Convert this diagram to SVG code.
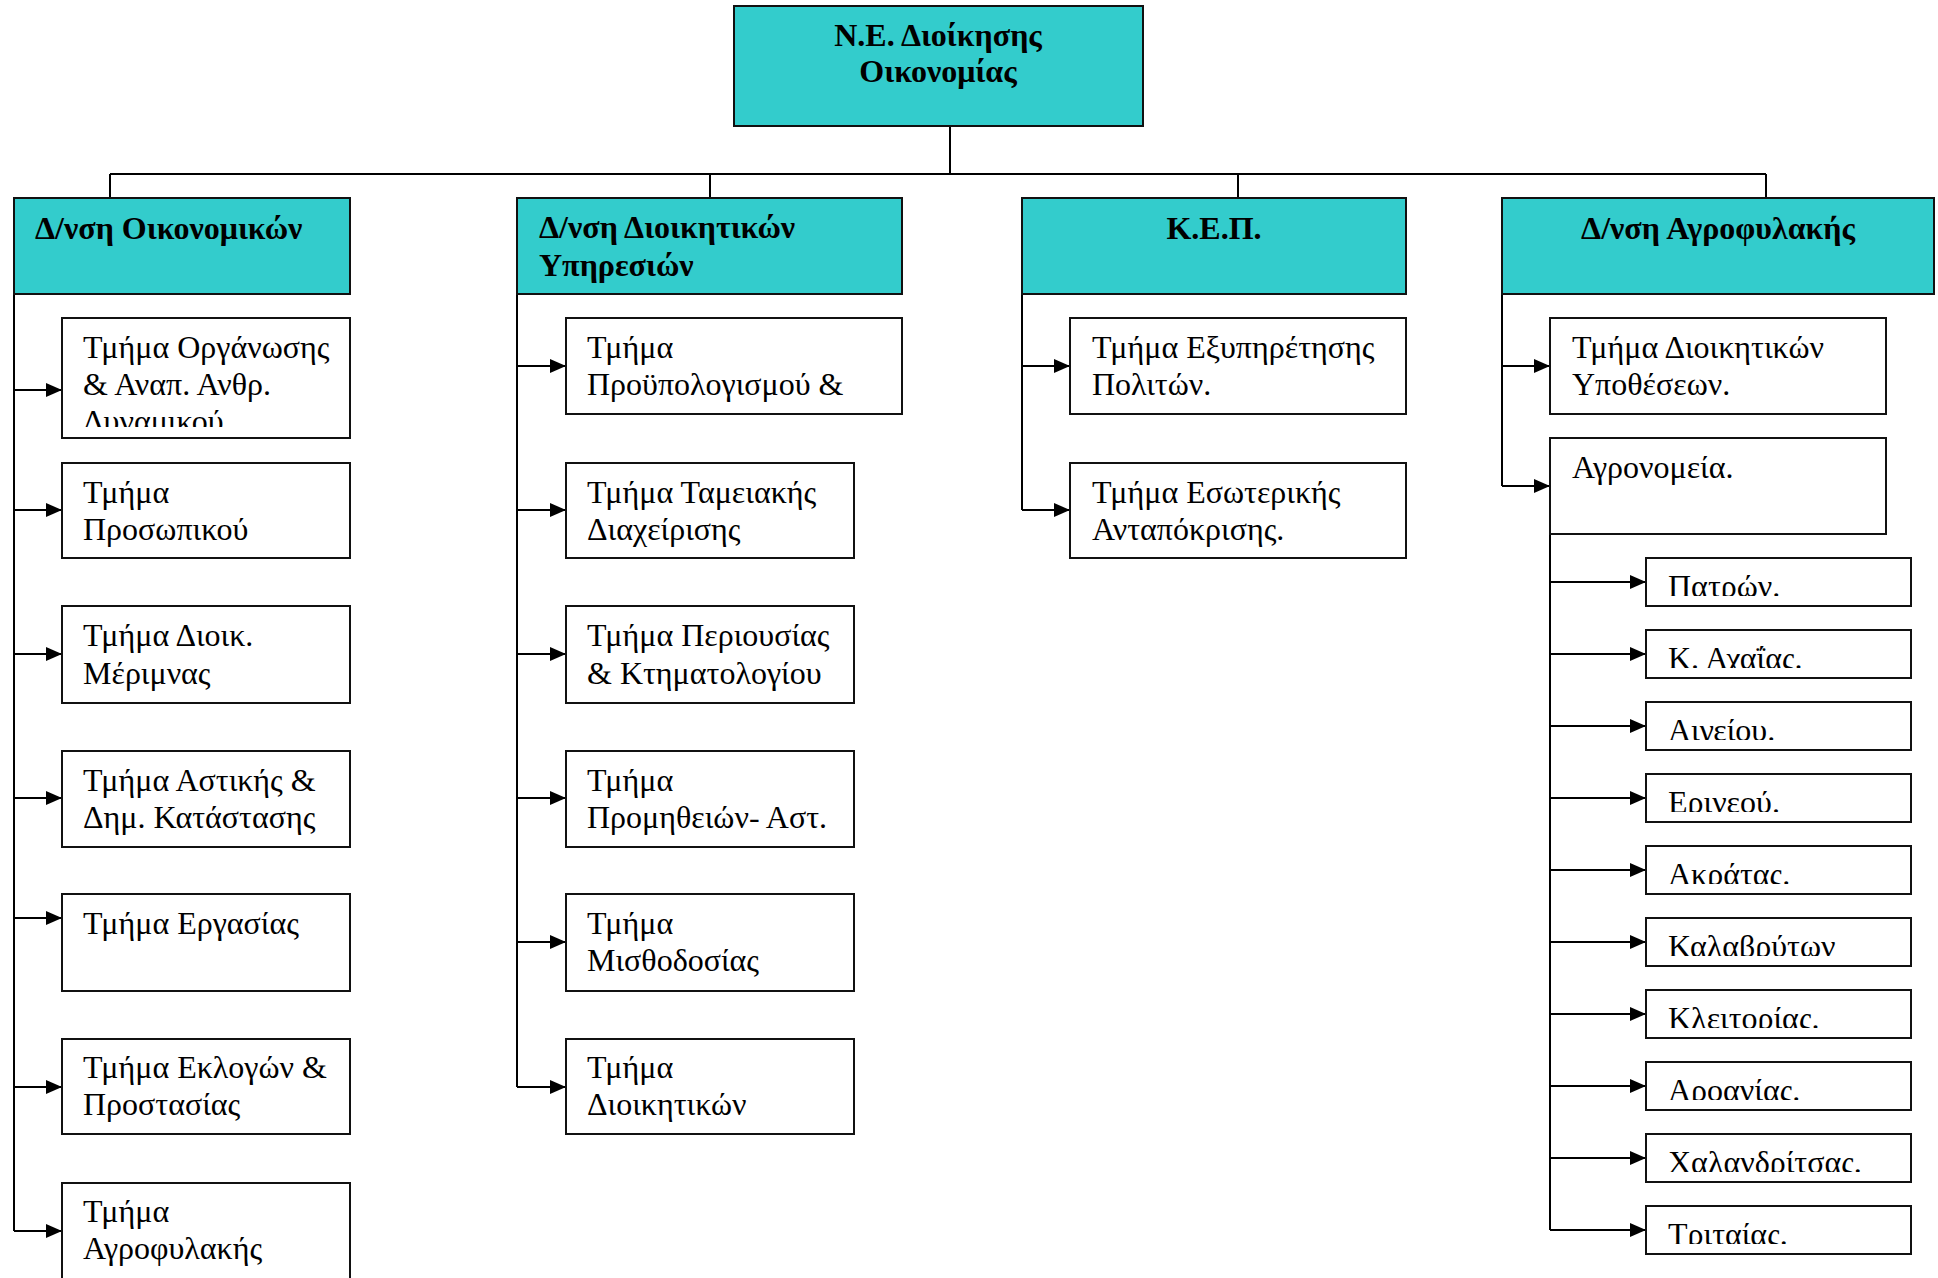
<svg xmlns="http://www.w3.org/2000/svg" width="1938" height="1278" viewBox="0 0 1938 1278">
  <style>
    .head { fill: #33CCCC; stroke: #111; stroke-width: 2; }
    .box { fill: #fff; stroke: #111; stroke-width: 2; }
    .t { font-family: "Liberation Serif", "Times New Roman", serif; font-size: 32px; fill: #000; }
    .tb { font-family: "Liberation Serif", "Times New Roman", serif; font-size: 32px; font-weight: bold; fill: #000; }
    .mid { text-anchor: middle; }
    .conn line, .conn polyline { stroke: #000; stroke-width: 2; fill: none; }
    .arr { marker-end: url(#tip); }
  </style>
  <defs>
    <marker id="tip" markerUnits="userSpaceOnUse" markerWidth="16" markerHeight="14" refX="16" refY="7" orient="auto">
      <path d="M0,0 L16,7 L0,14 Z" fill="#000"/>
    </marker>
    <clipPath id="c-org"><rect x="62" y="318" width="288" height="109"/></clipPath>
    <clipPath id="c-s0"><rect x="1646" y="558" width="265" height="38"/></clipPath>
    <clipPath id="c-s1"><rect x="1646" y="630" width="265" height="38"/></clipPath>
    <clipPath id="c-s2"><rect x="1646" y="702" width="265" height="38"/></clipPath>
    <clipPath id="c-s3"><rect x="1646" y="774" width="265" height="38"/></clipPath>
    <clipPath id="c-s4"><rect x="1646" y="846" width="265" height="38"/></clipPath>
    <clipPath id="c-s5"><rect x="1646" y="918" width="265" height="38"/></clipPath>
    <clipPath id="c-s6"><rect x="1646" y="990" width="265" height="38"/></clipPath>
    <clipPath id="c-s7"><rect x="1646" y="1062" width="265" height="38"/></clipPath>
    <clipPath id="c-s8"><rect x="1646" y="1134" width="265" height="38"/></clipPath>
    <clipPath id="c-s9"><rect x="1646" y="1206" width="265" height="38"/></clipPath>
  </defs>

  <!-- connectors -->
  <g id="connectors" class="conn">
    <line x1="950" y1="126" x2="950" y2="174"/>
    <line x1="110" y1="174" x2="1766" y2="174"/>
    <line x1="110" y1="174" x2="110" y2="198"/>
    <line x1="710" y1="174" x2="710" y2="198"/>
    <line x1="1238" y1="174" x2="1238" y2="198"/>
    <line x1="1766" y1="174" x2="1766" y2="198"/>

    <!-- finance directorate -->
    <line x1="14" y1="294" x2="14" y2="1231"/>
    <line class="arr" x1="14" y1="390" x2="62" y2="390"/>
    <line class="arr" x1="14" y1="510" x2="62" y2="510"/>
    <line class="arr" x1="14" y1="654" x2="62" y2="654"/>
    <line class="arr" x1="14" y1="798" x2="62" y2="798"/>
    <line class="arr" x1="14" y1="918" x2="62" y2="918"/>
    <line class="arr" x1="14" y1="1087" x2="62" y2="1087"/>
    <line class="arr" x1="14" y1="1231" x2="62" y2="1231"/>

    <!-- administrative services -->
    <line x1="517" y1="294" x2="517" y2="1087"/>
    <line class="arr" x1="517" y1="366" x2="566" y2="366"/>
    <line class="arr" x1="517" y1="510" x2="566" y2="510"/>
    <line class="arr" x1="517" y1="654" x2="566" y2="654"/>
    <line class="arr" x1="517" y1="798" x2="566" y2="798"/>
    <line class="arr" x1="517" y1="942" x2="566" y2="942"/>
    <line class="arr" x1="517" y1="1087" x2="566" y2="1087"/>

    <!-- KEP -->
    <line x1="1022" y1="294" x2="1022" y2="510"/>
    <line class="arr" x1="1022" y1="366" x2="1070" y2="366"/>
    <line class="arr" x1="1022" y1="510" x2="1070" y2="510"/>

    <!-- rural guard -->
    <line x1="1502" y1="294" x2="1502" y2="486"/>
    <line class="arr" x1="1502" y1="366" x2="1550" y2="366"/>
    <line class="arr" x1="1502" y1="486" x2="1550" y2="486"/>

    <!-- agronomy offices -->
    <line x1="1550" y1="534" x2="1550" y2="1230"/>
    <line class="arr" x1="1550" y1="582" x2="1646" y2="582"/>
    <line class="arr" x1="1550" y1="654" x2="1646" y2="654"/>
    <line class="arr" x1="1550" y1="726" x2="1646" y2="726"/>
    <line class="arr" x1="1550" y1="798" x2="1646" y2="798"/>
    <line class="arr" x1="1550" y1="870" x2="1646" y2="870"/>
    <line class="arr" x1="1550" y1="942" x2="1646" y2="942"/>
    <line class="arr" x1="1550" y1="1014" x2="1646" y2="1014"/>
    <line class="arr" x1="1550" y1="1086" x2="1646" y2="1086"/>
    <line class="arr" x1="1550" y1="1158" x2="1646" y2="1158"/>
    <line class="arr" x1="1550" y1="1230" x2="1646" y2="1230"/>
  </g>

  <!-- top level -->
  <g id="ne-dioikisis">
    <rect class="head" x="734" y="6" width="409" height="120"/>
    <text class="tb mid" x="938" y="46">Ν.Ε. Διοίκησης</text>
    <text class="tb mid" x="938" y="82">Οικονομίας</text>
  </g>

  <!-- directorates -->
  <g id="dnsi-oikonomikon">
    <rect class="head" x="14" y="198" width="336" height="96"/>
    <text class="tb" x="35" y="239">Δ/νση Οικονομικών</text>
  </g>
  <g id="dnsi-dioikitikon">
    <rect class="head" x="517" y="198" width="385" height="96"/>
    <text class="tb" x="539" y="238">Δ/νση Διοικητικών</text>
    <text class="tb" x="539" y="276">Υπηρεσιών</text>
  </g>
  <g id="kep">
    <rect class="head" x="1022" y="198" width="384" height="96"/>
    <text class="tb mid" x="1214" y="239">Κ.Ε.Π.</text>
  </g>
  <g id="dnsi-agrofylakis">
    <rect class="head" x="1502" y="198" width="432" height="96"/>
    <text class="tb mid" x="1718" y="239">Δ/νση Αγροφυλακής</text>
  </g>

  <!-- finance departments -->
  <g id="tm-organosis">
    <rect class="box" x="62" y="318" width="288" height="120"/>
    <g clip-path="url(#c-org)">
      <text class="t" x="83" y="358">Τμήμα Οργάνωσης</text>
      <text class="t" x="83" y="395">&amp; Αναπ. Ανθρ.</text>
      <text class="t" x="83" y="432">Δυναμικού</text>
    </g>
  </g>
  <g id="tm-prosopikou">
    <rect class="box" x="62" y="463" width="288" height="95"/>
    <text class="t" x="83" y="503">Τμήμα</text>
    <text class="t" x="83" y="540">Προσωπικού</text>
  </g>
  <g id="tm-merimnas">
    <rect class="box" x="62" y="606" width="288" height="97"/>
    <text class="t" x="83" y="646">Τμήμα Διοικ.</text>
    <text class="t" x="83" y="684">Μέριμνας</text>
  </g>
  <g id="tm-astikis">
    <rect class="box" x="62" y="751" width="288" height="96"/>
    <text class="t" x="83" y="791">Τμήμα Αστικής &amp;</text>
    <text class="t" x="83" y="828">Δημ. Κατάστασης</text>
  </g>
  <g id="tm-ergasias">
    <rect class="box" x="62" y="894" width="288" height="97"/>
    <text class="t" x="83" y="934">Τμήμα Εργασίας</text>
  </g>
  <g id="tm-eklogon">
    <rect class="box" x="62" y="1039" width="288" height="95"/>
    <text class="t" x="83" y="1078">Τμήμα Εκλογών &amp;</text>
    <text class="t" x="83" y="1115">Προστασίας</text>
  </g>
  <g id="tm-agrofylakis">
    <rect class="box" x="62" y="1183" width="288" height="100"/>
    <text class="t" x="83" y="1222">Τμήμα</text>
    <text class="t" x="83" y="1259">Αγροφυλακής</text>
  </g>

  <!-- administrative departments -->
  <g id="tm-proypologismou">
    <rect class="box" x="566" y="318" width="336" height="96"/>
    <text class="t" x="587" y="358">Τμήμα</text>
    <text class="t" x="587" y="395">Προϋπολογισμού &amp;</text>
  </g>
  <g id="tm-tameiakis">
    <rect class="box" x="566" y="463" width="288" height="95"/>
    <text class="t" x="587" y="503">Τμήμα Ταμειακής</text>
    <text class="t" x="587" y="540">Διαχείρισης</text>
  </g>
  <g id="tm-periousias">
    <rect class="box" x="566" y="606" width="288" height="97"/>
    <text class="t" x="587" y="646">Τμήμα Περιουσίας</text>
    <text class="t" x="587" y="684">&amp; Κτηματολογίου</text>
  </g>
  <g id="tm-promitheion">
    <rect class="box" x="566" y="751" width="288" height="96"/>
    <text class="t" x="587" y="791">Τμήμα</text>
    <text class="t" x="587" y="828">Προμηθειών- Αστ.</text>
  </g>
  <g id="tm-misthodosias">
    <rect class="box" x="566" y="894" width="288" height="97"/>
    <text class="t" x="587" y="934">Τμήμα</text>
    <text class="t" x="587" y="971">Μισθοδοσίας</text>
  </g>
  <g id="tm-dioikitikon">
    <rect class="box" x="566" y="1039" width="288" height="95"/>
    <text class="t" x="587" y="1078">Τμήμα</text>
    <text class="t" x="587" y="1115">Διοικητικών</text>
  </g>

  <!-- KEP departments -->
  <g id="tm-exypiretisis">
    <rect class="box" x="1070" y="318" width="336" height="96"/>
    <text class="t" x="1092" y="358">Τμήμα Εξυπηρέτησης</text>
    <text class="t" x="1092" y="395">Πολιτών.</text>
  </g>
  <g id="tm-esoterikis">
    <rect class="box" x="1070" y="463" width="336" height="95"/>
    <text class="t" x="1092" y="503">Τμήμα Εσωτερικής</text>
    <text class="t" x="1092" y="540">Ανταπόκρισης.</text>
  </g>

  <!-- rural guard departments -->
  <g id="tm-ypotheseon">
    <rect class="box" x="1550" y="318" width="336" height="96"/>
    <text class="t" x="1572" y="358">Τμήμα Διοικητικών</text>
    <text class="t" x="1572" y="395">Υποθέσεων.</text>
  </g>
  <g id="agronomeia">
    <rect class="box" x="1550" y="438" width="336" height="96"/>
    <text class="t" x="1572" y="478">Αγρονομεία.</text>
  </g>

  <!-- agronomy offices -->
  <g id="ag-patron">
    <rect class="box" x="1646" y="558" width="265" height="48"/>
    <text class="t" x="1668" y="597" clip-path="url(#c-s0)">Πατρών.</text>
  </g>
  <g id="ag-achaias">
    <rect class="box" x="1646" y="630" width="265" height="48"/>
    <text class="t" x="1668" y="669" clip-path="url(#c-s1)">Κ. Αχαΐας.</text>
  </g>
  <g id="ag-aigiou">
    <rect class="box" x="1646" y="702" width="265" height="48"/>
    <text class="t" x="1668" y="741" clip-path="url(#c-s2)">Αιγείου.</text>
  </g>
  <g id="ag-erineou">
    <rect class="box" x="1646" y="774" width="265" height="48"/>
    <text class="t" x="1668" y="813" clip-path="url(#c-s3)">Ερινεού.</text>
  </g>
  <g id="ag-akratas">
    <rect class="box" x="1646" y="846" width="265" height="48"/>
    <text class="t" x="1668" y="885" clip-path="url(#c-s4)">Ακράτας.</text>
  </g>
  <g id="ag-kalavryton">
    <rect class="box" x="1646" y="918" width="265" height="48"/>
    <text class="t" x="1668" y="957" clip-path="url(#c-s5)">Καλαβρύτων</text>
  </g>
  <g id="ag-kleitorias">
    <rect class="box" x="1646" y="990" width="265" height="48"/>
    <text class="t" x="1668" y="1029" clip-path="url(#c-s6)">Κλειτορίας.</text>
  </g>
  <g id="ag-aroanias">
    <rect class="box" x="1646" y="1062" width="265" height="48"/>
    <text class="t" x="1668" y="1101" clip-path="url(#c-s7)">Αροανίας.</text>
  </g>
  <g id="ag-chalandritsas">
    <rect class="box" x="1646" y="1134" width="265" height="48"/>
    <text class="t" x="1668" y="1173" clip-path="url(#c-s8)">Χαλανδρίτσας.</text>
  </g>
  <g id="ag-tritaias">
    <rect class="box" x="1646" y="1206" width="265" height="48"/>
    <text class="t" x="1668" y="1245" clip-path="url(#c-s9)">Τριταίας.</text>
  </g>
</svg>
